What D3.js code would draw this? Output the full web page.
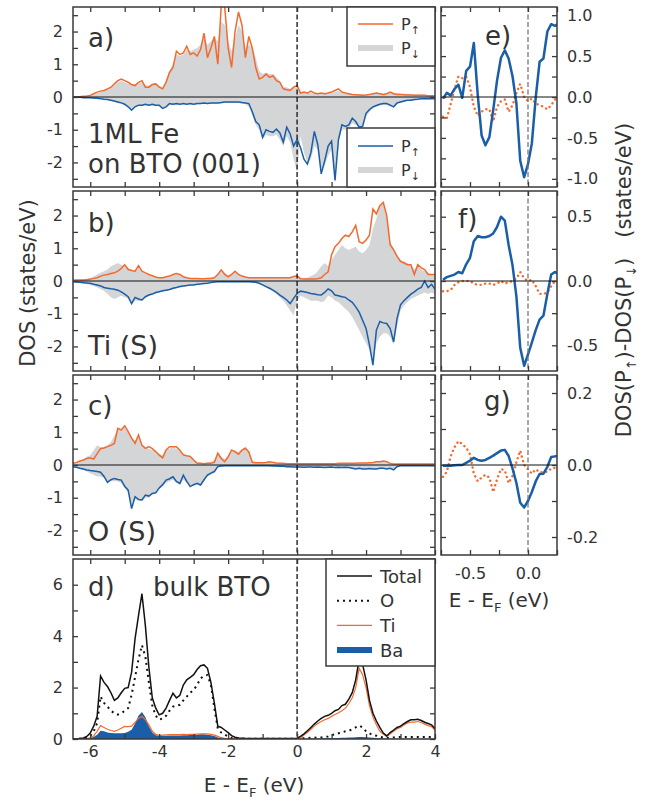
<!DOCTYPE html>
<html>
<head>
<meta charset="utf-8">
<script src="https://cdn.jsdelivr.net/npm/d3@7"></script>
<style>
  body { margin: 0; background: #fff; }
  svg { display: block; }
  text { font-family: "DejaVu Sans", sans-serif; fill: #333; }
</style>
</head>
<body>
<script>
// ENERGY GRIDS (eV)
const energy = d3.range(106).map(i => Math.round((-6.5 + i * 0.1) * 10) / 10);
const energyDiff = [-0.733, -0.700, -0.667, -0.633, -0.600, -0.567, -0.533, -0.500, -0.467, -0.433,
  -0.400, -0.367, -0.333, -0.300, -0.267, -0.233, -0.200, -0.167, -0.133, -0.100,
  -0.067, -0.033, 0.000, 0.033, 0.067, 0.100, 0.133, 0.167, 0.200, 0.233, 0.267];

// PANEL A : 1ML Fe on BTO (001)
const aUp = [0.0, 0.01, 0.01, 0.02, 0.03, 0.05, 0.1, 0.15, 0.18, 0.2,
  0.25, 0.3, 0.4, 0.5, 0.55, 0.5, 0.45, 0.38, 0.35, 0.45,
  0.5, 0.3, 0.3, 0.38, 0.4, 0.3, 0.25, 0.45, 0.75, 0.9,
  1.4, 1.3, 1.35, 1.55, 1.3, 1.35, 1.25, 1.45, 1.95, 1.2,
  1.5, 1.85, 1.0, 2.8, 2.75, 1.5, 0.9, 2.0, 2.6, 2.2,
  1.2, 1.85, 1.5, 0.9, 0.55, 0.6, 0.7, 0.6, 0.65, 0.5,
  0.45, 0.25, 0.22, 0.2, 0.3, 0.35, 0.12, 0.15, 0.12, 0.18,
  0.12, 0.1, 0.12, 0.1, 0.12, 0.15, 0.2, 0.25, 0.15, 0.12,
  0.1, 0.08, 0.07, 0.06, 0.05, 0.06, 0.08, 0.1, 0.12, 0.1,
  0.08, 0.1, 0.15, 0.1, 0.08, 0.08, 0.07, 0.06, 0.06, 0.05,
  0.05, 0.05, 0.05, 0.04, 0.04, 0.04];
const aUpGrey = [0.0, 0.01, 0.01, 0.02, 0.03, 0.05, 0.08, 0.12, 0.15, 0.2,
  0.25, 0.3, 0.35, 0.45, 0.5, 0.45, 0.4, 0.4, 0.38, 0.42,
  0.45, 0.35, 0.35, 0.4, 0.42, 0.35, 0.3, 0.5, 0.8, 1.0,
  1.3, 1.25, 1.3, 1.45, 1.4, 1.45, 1.5, 1.6, 1.8, 1.6,
  1.7, 1.8, 1.7, 2.3, 2.2, 1.7, 1.4, 1.8, 2.2, 2.0,
  1.5, 1.6, 1.5, 1.2, 0.8, 0.7, 0.75, 0.7, 0.7, 0.6,
  0.5, 0.3, 0.3, 0.25, 0.3, 0.3, 0.12, 0.12, 0.1, 0.12,
  0.1, 0.1, 0.1, 0.1, 0.1, 0.12, 0.15, 0.18, 0.12, 0.1,
  0.1, 0.08, 0.08, 0.08, 0.08, 0.08, 0.09, 0.1, 0.1, 0.1,
  0.1, 0.11, 0.12, 0.12, 0.12, 0.1, 0.1, 0.1, 0.09, 0.08,
  0.08, 0.08, 0.07, 0.06, 0.06, 0.05];
const aDn = [-0.01, -0.01, -0.01, -0.02, -0.02, -0.02, -0.03, -0.04, -0.05, -0.07,
  -0.08, -0.1, -0.12, -0.15, -0.18, -0.22, -0.3, -0.4, -0.3, -0.25,
  -0.25, -0.22, -0.25, -0.22, -0.25, -0.25, -0.35, -0.3, -0.2, -0.22,
  -0.2, -0.22, -0.2, -0.22, -0.2, -0.22, -0.2, -0.2, -0.18, -0.2,
  -0.18, -0.18, -0.18, -0.17, -0.15, -0.15, -0.15, -0.15, -0.15, -0.17,
  -0.18, -0.2, -0.45, -0.75, -0.85, -1.23, -1.0, -1.05, -1.08, -0.98,
  -1.1, -1.38, -0.92, -1.13, -1.5, -1.3, -1.55, -1.9, -2.05, -1.7,
  -1.05, -1.45, -2.35, -1.95, -1.5, -1.35, -2.55, -1.3, -0.85, -0.9,
  -0.85, -0.65, -0.75, -0.92, -0.9, -0.5, -0.38, -0.3, -0.26, -0.22,
  -0.2, -0.2, -0.25, -0.3, -0.18, -0.15, -0.12, -0.1, -0.1, -0.08,
  -0.07, -0.05, -0.05, -0.05, -0.05, -0.05];
const aDnGrey = [-0.01, -0.01, -0.02, -0.02, -0.03, -0.03, -0.04, -0.05, -0.06, -0.08,
  -0.1, -0.12, -0.15, -0.18, -0.2, -0.25, -0.3, -0.35, -0.3, -0.28,
  -0.28, -0.25, -0.28, -0.25, -0.28, -0.28, -0.32, -0.3, -0.25, -0.25,
  -0.25, -0.25, -0.22, -0.25, -0.22, -0.25, -0.22, -0.22, -0.2, -0.22,
  -0.2, -0.2, -0.2, -0.2, -0.18, -0.18, -0.18, -0.18, -0.18, -0.2,
  -0.22, -0.3, -0.55, -0.85, -1.0, -1.3, -1.15, -1.2, -1.2, -1.15,
  -1.3, -1.5, -1.2, -1.4, -1.9, -2.3, -1.2, -1.7, -2.0, -1.9,
  -1.5, -1.6, -2.2, -2.1, -1.8, -1.6, -2.4, -1.4, -1.0, -1.0,
  -0.95, -0.8, -0.85, -0.95, -0.95, -0.6, -0.45, -0.35, -0.3, -0.25,
  -0.25, -0.25, -0.28, -0.32, -0.22, -0.18, -0.15, -0.12, -0.12, -0.1,
  -0.1, -0.08, -0.08, -0.07, -0.06, -0.06];

// PANEL B : Ti (S)
const bUp = [0.02, 0.03, 0.03, 0.03, 0.04, 0.05, 0.08, 0.1, 0.15, 0.18,
  0.2, 0.23, 0.25, 0.3, 0.38, 0.5, 0.35, 0.32, 0.3, 0.47,
  0.3, 0.25, 0.2, 0.16, 0.12, 0.1, 0.1, 0.13, 0.15, 0.2,
  0.23, 0.2, 0.13, 0.1, 0.08, 0.08, 0.08, 0.07, 0.07, 0.08,
  0.08, 0.1, 0.2, 0.34, 0.2, 0.13, 0.2, 0.3, 0.2, 0.15,
  0.12, 0.1, 0.1, 0.1, 0.1, 0.1, 0.1, 0.1, 0.1, 0.1,
  0.1, 0.1, 0.1, 0.1, 0.14, 0.15, 0.07, 0.06, 0.06, 0.06,
  0.06, 0.07, 0.1, 0.2, 0.28, 0.8, 1.05, 1.15, 1.3, 1.4,
  1.36, 1.5, 1.7, 1.2, 1.15, 1.25, 1.4, 2.2, 2.05, 2.3,
  2.4, 2.0, 1.1, 0.95, 0.75, 0.6, 0.55, 0.5, 0.5, 0.2,
  0.5, 0.4, 0.35, 0.2, 0.2, 0.2];
const bUpGrey = [0.02, 0.03, 0.04, 0.05, 0.07, 0.1, 0.14, 0.2, 0.25, 0.3,
  0.35, 0.45, 0.5, 0.55, 0.5, 0.45, 0.4, 0.35, 0.3, 0.4,
  0.28, 0.22, 0.18, 0.14, 0.12, 0.1, 0.1, 0.12, 0.14, 0.18,
  0.2, 0.18, 0.12, 0.1, 0.08, 0.08, 0.08, 0.08, 0.08, 0.1,
  0.1, 0.12, 0.22, 0.35, 0.25, 0.15, 0.22, 0.32, 0.22, 0.15,
  0.12, 0.1, 0.1, 0.1, 0.1, 0.1, 0.1, 0.1, 0.1, 0.1,
  0.1, 0.1, 0.1, 0.12, 0.15, 0.18, 0.1, 0.1, 0.1, 0.15,
  0.2, 0.3, 0.45, 0.55, 0.45, 0.65, 0.8, 0.95, 1.1, 1.0,
  0.95, 1.0, 1.05, 0.9, 0.85, 0.95, 1.1, 1.6, 1.9, 2.3,
  2.35, 1.9, 1.2, 1.0, 0.8, 0.65, 0.6, 0.55, 0.5, 0.35,
  0.45, 0.35, 0.3, 0.25, 0.2, 0.2];
const bDn = [-0.02, -0.03, -0.04, -0.05, -0.06, -0.07, -0.1, -0.12, -0.15, -0.2,
  -0.22, -0.24, -0.25, -0.28, -0.33, -0.4, -0.48, -0.69, -0.5, -0.55,
  -0.58, -0.48, -0.43, -0.4, -0.35, -0.33, -0.3, -0.28, -0.26, -0.22,
  -0.2, -0.17, -0.15, -0.14, -0.12, -0.12, -0.1, -0.09, -0.08, -0.07,
  -0.05, -0.03, -0.02, -0.02, -0.02, -0.02, -0.02, -0.02, -0.02, -0.02,
  -0.02, -0.02, -0.03, -0.04, -0.07, -0.12, -0.17, -0.22, -0.28, -0.35,
  -0.43, -0.5, -0.58, -0.69, -0.53, -0.38, -0.31, -0.33, -0.35, -0.38,
  -0.4, -0.42, -0.43, -0.35, -0.24, -0.3, -0.43, -0.45, -0.48, -0.5,
  -0.58, -0.65, -0.79, -0.95, -1.2, -1.45, -1.96, -2.57, -1.5, -1.24,
  -1.28, -1.3, -1.45, -1.86, -1.14, -0.73, -0.6, -0.5, -0.4, -0.33,
  -0.25, -0.2, 0.0, -0.2, -0.1, -0.25];
const bDnGrey = [-0.02, -0.03, -0.05, -0.07, -0.1, -0.12, -0.15, -0.2, -0.25, -0.3,
  -0.4, -0.5, -0.55, -0.5, -0.45, -0.5, -0.55, -0.7, -0.6, -0.6,
  -0.6, -0.5, -0.45, -0.42, -0.38, -0.35, -0.32, -0.3, -0.28, -0.25,
  -0.22, -0.2, -0.18, -0.16, -0.14, -0.13, -0.12, -0.1, -0.09, -0.08,
  -0.06, -0.04, -0.03, -0.03, -0.03, -0.03, -0.03, -0.03, -0.03, -0.03,
  -0.03, -0.03, -0.04, -0.05, -0.08, -0.14, -0.2, -0.26, -0.32, -0.4,
  -0.5, -0.6, -0.75, -0.9, -1.05, -0.6, -0.45, -0.5, -0.55, -0.6,
  -0.6, -0.6, -0.65, -0.6, -0.45, -0.5, -0.6, -0.65, -0.75, -0.85,
  -0.95, -1.1, -1.3, -1.5, -1.7, -1.9, -2.1, -2.5, -1.9, -1.7,
  -1.6, -1.6, -1.7, -1.95, -1.4, -0.9, -0.75, -0.65, -0.55, -0.5,
  -0.45, -0.4, -0.35, -0.4, -0.35, -0.4];

// PANEL C : O (S)
const cUp = [0.05, 0.08, 0.12, 0.15, 0.2, 0.22, 0.18, 0.35, 0.5, 0.52,
  0.56, 0.6, 0.66, 1.12, 1.07, 1.2, 1.02, 0.82, 0.66, 0.92,
  0.6, 0.51, 0.56, 0.5, 0.41, 0.3, 0.22, 0.46, 0.56, 0.56,
  0.56, 0.45, 0.31, 0.28, 0.26, 0.15, 0.05, 0.05, 0.04, 0.05,
  0.05, 0.08, 0.36, 0.2, 0.1, 0.25, 0.46, 0.4, 0.33, 0.45,
  0.51, 0.4, 0.08, 0.07, 0.07, 0.07, 0.08, 0.1, 0.08, 0.06,
  0.05, 0.05, 0.04, 0.04, 0.04, 0.04, 0.04, 0.04, 0.04, 0.04,
  0.04, 0.04, 0.04, 0.04, 0.04, 0.04, 0.04, 0.05, 0.05, 0.05,
  0.05, 0.05, 0.05, 0.06, 0.06, 0.06, 0.07, 0.08, 0.1, 0.1,
  0.12, 0.1, 0.05, 0.03, 0.03, 0.03, 0.03, 0.03, 0.03, 0.03,
  0.03, 0.03, 0.03, 0.03, 0.03, 0.03];
const cUpGrey = [0.05, 0.08, 0.12, 0.18, 0.25, 0.3, 0.45, 0.6, 0.55, 0.55,
  0.6, 0.7, 0.9, 1.1, 1.05, 1.15, 1.0, 0.85, 0.75, 0.85,
  0.6, 0.55, 0.5, 0.45, 0.4, 0.35, 0.3, 0.45, 0.5, 0.55,
  0.5, 0.45, 0.35, 0.3, 0.25, 0.15, 0.08, 0.06, 0.06, 0.08,
  0.1, 0.15, 0.35, 0.25, 0.18, 0.3, 0.45, 0.45, 0.4, 0.5,
  0.55, 0.4, 0.15, 0.1, 0.08, 0.08, 0.1, 0.1, 0.08, 0.06,
  0.05, 0.05, 0.04, 0.04, 0.05, 0.04, 0.03, 0.03, 0.03, 0.03,
  0.03, 0.03, 0.03, 0.03, 0.04, 0.04, 0.04, 0.04, 0.04, 0.05,
  0.05, 0.05, 0.05, 0.05, 0.06, 0.06, 0.06, 0.07, 0.08, 0.1,
  0.1, 0.08, 0.04, 0.03, 0.03, 0.03, 0.03, 0.03, 0.03, 0.03,
  0.03, 0.03, 0.03, 0.03, 0.03, 0.03];
const cDn = [-0.05, -0.07, -0.1, -0.12, -0.15, -0.17, -0.18, -0.2, -0.22, -0.35,
  -0.53, -0.45, -0.41, -0.44, -0.46, -0.65, -0.77, -1.33, -0.97, -1.05,
  -1.07, -0.92, -0.95, -0.87, -0.85, -0.7, -0.6, -0.46, -0.42, -0.36,
  -0.5, -0.56, -0.31, -0.5, -0.66, -0.6, -0.56, -0.61, -0.45, -0.31,
  -0.25, -0.2, -0.05, -0.03, -0.02, -0.02, -0.02, -0.02, -0.02, -0.02,
  -0.02, -0.02, -0.02, -0.02, -0.02, -0.02, -0.02, -0.02, -0.03, -0.03,
  -0.04, -0.04, -0.05, -0.05, -0.06, -0.06, -0.06, -0.07, -0.06, -0.06,
  -0.07, -0.06, -0.07, -0.08, -0.07, -0.06, -0.08, -0.07, -0.08, -0.07,
  -0.08, -0.1, -0.12, -0.1, -0.12, -0.12, -0.11, -0.12, -0.12, -0.1,
  -0.1, -0.12, -0.1, -0.15, -0.05, -0.02, -0.02, -0.02, -0.02, -0.02,
  -0.02, -0.02, -0.02, -0.02, -0.02, -0.02];
const cDnGrey = [-0.06, -0.08, -0.12, -0.15, -0.2, -0.25, -0.3, -0.35, -0.35, -0.4,
  -0.5, -0.5, -0.5, -0.5, -0.55, -0.7, -0.85, -1.2, -1.05, -1.1,
  -1.1, -1.0, -1.0, -0.9, -0.85, -0.75, -0.65, -0.55, -0.5, -0.45,
  -0.55, -0.6, -0.45, -0.55, -0.65, -0.65, -0.6, -0.65, -0.5, -0.35,
  -0.3, -0.22, -0.08, -0.04, -0.03, -0.03, -0.03, -0.03, -0.03, -0.03,
  -0.03, -0.03, -0.03, -0.03, -0.03, -0.03, -0.03, -0.04, -0.04, -0.05,
  -0.05, -0.06, -0.06, -0.07, -0.08, -0.1, -0.07, -0.07, -0.07, -0.06,
  -0.07, -0.07, -0.07, -0.08, -0.08, -0.07, -0.08, -0.08, -0.08, -0.08,
  -0.09, -0.1, -0.12, -0.12, -0.12, -0.12, -0.12, -0.12, -0.12, -0.12,
  -0.12, -0.12, -0.12, -0.15, -0.06, -0.03, -0.03, -0.03, -0.03, -0.03,
  -0.03, -0.03, -0.03, -0.03, -0.03, -0.03];

// PANEL D : bulk BTO
const dTotal = [0.0, 0.0, 0.02, 0.04, 0.1, 0.23, 0.5, 0.88, 2.45, 2.2,
  2.04, 1.8, 1.5, 1.6, 1.8, 1.97, 2.0, 2.6, 3.9, 4.8,
  5.65, 4.4, 2.8, 1.6, 1.2, 0.94, 1.0, 1.2, 1.5, 1.78,
  1.6, 1.7, 2.1, 2.3, 2.4, 2.5, 2.7, 2.85, 2.88, 2.75,
  2.2, 1.4, 0.5, 0.45, 0.35, 0.25, 0.13, 0.07, 0.04, 0.03,
  0.02, 0.02, 0.02, 0.02, 0.02, 0.02, 0.02, 0.02, 0.02, 0.02,
  0.02, 0.02, 0.02, 0.02, 0.02, 0.03, 0.1, 0.2, 0.32, 0.45,
  0.58, 0.7, 0.8, 0.88, 0.92, 1.0, 1.1, 1.15, 1.3, 1.35,
  1.55, 1.8, 2.3, 3.1, 2.9, 2.3, 1.5, 1.0, 0.7, 0.45,
  0.23, 0.12, 0.25, 0.35, 0.45, 0.5, 0.6, 0.68, 0.75, 0.75,
  0.77, 0.72, 0.65, 0.6, 0.55, 0.4];
const dO = [0.0, 0.0, 0.01, 0.02, 0.05, 0.12, 0.3, 0.62, 1.65, 1.4,
  1.26, 1.1, 1.0, 0.95, 1.0, 1.1, 1.2, 1.72, 2.4, 3.1,
  3.65, 3.2, 2.2, 1.3, 0.9, 0.75, 0.8, 0.9, 1.1, 1.26,
  1.3, 1.33, 1.5, 1.65, 1.8, 1.91, 2.1, 2.36, 2.45, 2.49,
  2.1, 1.2, 0.4, 0.25, 0.17, 0.1, 0.04, 0.03, 0.02, 0.02,
  0.01, 0.01, 0.01, 0.01, 0.01, 0.01, 0.01, 0.01, 0.01, 0.01,
  0.01, 0.01, 0.01, 0.01, 0.01, 0.01, 0.02, 0.03, 0.04, 0.05,
  0.05, 0.06, 0.06, 0.08, 0.1, 0.15, 0.18, 0.22, 0.25, 0.3,
  0.32, 0.38, 0.45, 0.52, 0.45, 0.3, 0.22, 0.15, 0.13, 0.08,
  0.06, 0.04, 0.05, 0.06, 0.07, 0.08, 0.08, 0.08, 0.08, 0.08,
  0.08, 0.08, 0.08, 0.08, 0.08, 0.08];
const dTi = [0.0, 0.0, 0.0, 0.01, 0.02, 0.05, 0.12, 0.3, 0.52, 0.45,
  0.38, 0.33, 0.3, 0.35, 0.42, 0.49, 0.48, 0.5, 0.65, 0.8,
  0.88, 0.75, 0.55, 0.3, 0.18, 0.14, 0.15, 0.16, 0.17, 0.17,
  0.17, 0.17, 0.18, 0.17, 0.18, 0.18, 0.19, 0.2, 0.2, 0.2,
  0.18, 0.15, 0.1, 0.05, 0.03, 0.02, 0.01, 0.01, 0.01, 0.01,
  0.0, 0.0, 0.0, 0.0, 0.0, 0.0, 0.0, 0.0, 0.0, 0.0,
  0.0, 0.0, 0.0, 0.0, 0.0, 0.01, 0.05, 0.15, 0.26, 0.38,
  0.5, 0.6, 0.68, 0.75, 0.8, 0.88, 0.95, 1.02, 1.1, 1.2,
  1.38, 1.6, 2.0, 2.75, 2.5, 2.0, 1.3, 0.85, 0.55, 0.3,
  0.19, 0.1, 0.2, 0.3, 0.4, 0.45, 0.55, 0.62, 0.66, 0.66,
  0.68, 0.64, 0.58, 0.52, 0.48, 0.35];
const dBa = [0.0, 0.0, 0.0, 0.0, 0.01, 0.03, 0.08, 0.17, 0.32, 0.3,
  0.25, 0.23, 0.22, 0.22, 0.22, 0.23, 0.28, 0.36, 0.6, 0.9,
  1.05, 0.85, 0.5, 0.25, 0.15, 0.13, 0.13, 0.13, 0.14, 0.14,
  0.14, 0.14, 0.15, 0.15, 0.16, 0.17, 0.17, 0.18, 0.18, 0.17,
  0.15, 0.12, 0.06, 0.03, 0.01, 0.01, 0.0, 0.0, 0.0, 0.0,
  0.0, 0.0, 0.0, 0.0, 0.0, 0.0, 0.0, 0.0, 0.0, 0.0,
  0.0, 0.0, 0.0, 0.0, 0.0, 0.0, 0.01, 0.01, 0.01, 0.02,
  0.02, 0.02, 0.02, 0.03, 0.03, 0.03, 0.04, 0.04, 0.05, 0.05,
  0.06, 0.06, 0.07, 0.08, 0.08, 0.07, 0.06, 0.05, 0.04, 0.03,
  0.02, 0.01, 0.01, 0.01, 0.01, 0.01, 0.01, 0.01, 0.01, 0.01,
  0.01, 0.01, 0.01, 0.01, 0.01, 0.01];

// PANELS E F G : DOS(P up) - DOS(P down) near E_F
const eBlue = [-0.02, 0.05, 0.02, 0.1, 0.15, -0.01, 0.32, 0.37, 0.66, 0.02,
  -0.47, -0.59, -0.49, -0.16, 0.2, 0.48, 0.57, 0.47, 0.25, -0.08,
  -0.78, -0.98, -0.82, -0.57, 0.0, 0.43, 0.47, 0.8, 0.89, 0.87, 0.9];
const eOrange = [-0.24, -0.26, -0.09, 0.1, 0.25, 0.23, 0.25, 0.12, -0.12, -0.23,
  -0.18, -0.15, -0.15, -0.3, -0.12, -0.05, -0.03, -0.18, -0.1, 0.05,
  0.16, 0.0, -0.05, -0.02, -0.08, -0.1, -0.12, -0.15, -0.1, -0.03, 0.0];
const fBlue = [0.01, 0.03, 0.04, 0.05, 0.07, 0.06, 0.13, 0.18, 0.31, 0.35,
  0.34, 0.34, 0.35, 0.37, 0.42, 0.5, 0.47, 0.28, 0.12, -0.12,
  -0.52, -0.66, -0.57, -0.48, -0.38, -0.3, -0.27, -0.1, 0.05, 0.07, 0.05];
const fOrange = [-0.08, -0.08, -0.07, -0.03, -0.01, 0.0, 0.0, 0.0, -0.02, -0.03,
  -0.03, -0.02, -0.02, -0.03, -0.02, 0.0, -0.02, -0.01, 0.0, 0.02,
  0.07, 0.02, 0.0, 0.01, -0.04, -0.1, -0.1, -0.09, -0.04, 0.0, 0.0];
const gBlue = [-0.002, -0.002, -0.002, -0.001, 0.0, 0.0, 0.006, 0.012, 0.02, 0.014,
  0.012, 0.014, 0.02, 0.026, 0.033, 0.04, 0.042, 0.025, -0.01, -0.05,
  -0.105, -0.118, -0.1, -0.075, -0.045, -0.025, -0.024, -0.005, 0.022, 0.024, 0.024];
const gOrange = [-0.033, -0.019, 0.024, 0.05, 0.066, 0.058, 0.048, 0.03, -0.024, -0.045,
  -0.035, -0.027, -0.035, -0.075, -0.04, -0.011, -0.015, -0.05, -0.03, 0.008,
  0.04, 0.0, -0.012, -0.024, -0.012, -0.02, -0.02, -0.019, -0.01, -0.008, -0.005];

// TICKS
const eTicks = [-6, -5, -4, -3, -2, -1, 0, 1, 2, 3, 4];
const eLabels = [-6, -4, -2, 0, 2, 4];
const dosTicks = [-2.5, -2, -1.5, -1, -0.5, 0, 0.5, 1, 1.5, 2, 2.5];
const dosLabels = [-2, -1, 0, 1, 2];
const bulkTicks = [0, 1, 2, 3, 4, 5, 6];
const bulkLabels = [0, 2, 4, 6];
const diffETicks = [-0.75, -0.5, -0.25, 0, 0.25];
const diffELabels = [-0.5, 0];
const eYTicks = [-1, -0.75, -0.5, -0.25, 0, 0.25, 0.5, 0.75, 1];
const eYLabels = [-1, -0.5, 0, 0.5, 1];
const fYTicks = [-0.5, -0.25, 0, 0.25, 0.5];
const fYLabels = [-0.5, 0, 0.5];
const gYTicks = [-0.2, -0.1, 0, 0.1, 0.2];
const gYLabels = [-0.2, 0, 0.2];

// COLOURS
const ORANGE = "#f26a2e", BLUE = "#1a5ea8", GREY = "#d4d5d7", AX = "#3a3a3a";

// SVG
const svg = d3.select("body").append("svg").attr("width", 658).attr("height", 803);

const rowTop = [7, 191, 375, 559];
const rowH = 180;
const xLeft = d3.scaleLinear().domain([-6.5, 4]).range([73, 435]);
const xRight = d3.scaleLinear().domain([-0.75, 0.25]).range([441, 557]);

let clipN = 0;
function makeClip(x, y) {
  const id = "clip" + (clipN++);
  svg.append("clipPath").attr("id", id).append("rect")
    .attr("x", x.range()[0]).attr("y", y.range()[1])
    .attr("width", x.range()[1] - x.range()[0])
    .attr("height", y.range()[0] - y.range()[1]);
  return svg.append("g").attr("clip-path", `url(#${id})`);
}

function styleAxis(g) {
  g.attr("color", AX).attr("font-family", null).attr("font-size", null);
  g.select(".domain").remove();
  g.selectAll(".tick line").attr("stroke-width", 1.3);
  g.selectAll("text").attr("fill", "#333").style("font-size", "16px");
}

// AXES + FRAME (inward ticks on all four sides)
function addAxes(x, y, xTicks, yTicks, o) {
  const [l, r] = x.range(), [b, t] = y.range();
  const fy = v => (o.yLabels.includes(v) ? o.yFmt(v) : "");
  const fx = v => (o.xLabels && o.xLabels.includes(v) ? o.xFmt(v) : "");
  svg.append("g").attr("transform", `translate(0,${t})`)
    .call(d3.axisTop(x).tickValues(xTicks).tickSize(-5).tickFormat("")).call(styleAxis);
  svg.append("g").attr("transform", `translate(0,${b})`)
    .call(d3.axisBottom(x).tickValues(xTicks).tickSize(-5).tickPadding(o.xPad || 6).tickFormat(fx)).call(styleAxis);
  svg.append("g").attr("transform", `translate(${l},0)`)
    .call(d3.axisLeft(y).tickValues(yTicks).tickSize(-5).tickPadding(10).tickFormat(o.right ? "" : fy)).call(styleAxis);
  svg.append("g").attr("transform", `translate(${r},0)`)
    .call(d3.axisRight(y).tickValues(yTicks).tickSize(-5).tickPadding(10).tickFormat(o.right ? fy : "")).call(styleAxis);
  svg.append("rect").attr("x", l).attr("y", t).attr("width", r - l).attr("height", b - t)
    .attr("fill", "none").attr("stroke", AX).attr("stroke-width", 1.5);
}

function zeroLines(x, y, dashColor, withH) {
  if (withH) {
    svg.append("line").attr("x1", x.range()[0]).attr("x2", x.range()[1])
      .attr("y1", y(0)).attr("y2", y(0)).attr("stroke", "#111").attr("stroke-width", 1);
  }
  svg.append("line").attr("x1", x(0)).attr("x2", x(0))
    .attr("y1", y.range()[1]).attr("y2", y.range()[0])
    .attr("stroke", dashColor).attr("stroke-width", 1.3).attr("stroke-dasharray", "5,2.5");
}

// LEFT SPIN-RESOLVED PANELS a, b, c
const spinPanels = [
  {up: aUp, upGrey: aUpGrey, dn: aDn, dnGrey: aDnGrey},
  {up: bUp, upGrey: bUpGrey, dn: bDn, dnGrey: bDnGrey},
  {up: cUp, upGrey: cUpGrey, dn: cDn, dnGrey: cDnGrey}
];
spinPanels.forEach((p, k) => {
  const y = d3.scaleLinear().domain([-2.75, 2.75]).range([rowTop[k] + rowH, rowTop[k]]);
  const g = makeClip(xLeft, y);
  const area = d3.area().x((d, i) => xLeft(energy[i])).y0(y(0)).y1(d => y(d));
  const line = d3.line().x((d, i) => xLeft(energy[i])).y(d => y(d));
  g.append("path").attr("d", area(p.upGrey)).attr("fill", GREY);
  g.append("path").attr("d", area(p.dnGrey)).attr("fill", GREY);
  g.append("path").attr("d", line(p.up)).attr("fill", "none").attr("stroke", ORANGE).attr("stroke-width", 1.5);
  g.append("path").attr("d", line(p.dn)).attr("fill", "none").attr("stroke", BLUE).attr("stroke-width", 1.5);
  zeroLines(xLeft, y, "#111", true);
  addAxes(xLeft, y, eTicks, dosTicks, {yLabels: dosLabels, yFmt: v => String(v)});
});

// PANEL D bulk
const yBulk = d3.scaleLinear().domain([0, 7]).range([rowTop[3] + rowH, rowTop[3]]);
{
  const g = makeClip(xLeft, yBulk);
  const line = d3.line().x((d, i) => xLeft(energy[i])).y(d => yBulk(d));
  const area = d3.area().x((d, i) => xLeft(energy[i])).y0(yBulk(0)).y1(d => yBulk(d));
  g.append("path").attr("d", area(dBa)).attr("fill", BLUE);
  g.append("path").attr("d", line(dTi)).attr("fill", "none").attr("stroke", ORANGE).attr("stroke-width", 1.2);
  g.append("path").attr("d", line(dO)).attr("fill", "none").attr("stroke", "#111")
    .attr("stroke-width", 2).attr("stroke-dasharray", "2,4");
  g.append("path").attr("d", line(dTotal)).attr("fill", "none").attr("stroke", "#111").attr("stroke-width", 1.5);
  zeroLines(xLeft, yBulk, "#111", false);
  addAxes(xLeft, yBulk, eTicks, bulkTicks, {yLabels: bulkLabels, yFmt: v => String(v),
    xLabels: eLabels, xFmt: v => String(v), xPad: 7});
}

// RIGHT DIFFERENCE PANELS e, f, g
const diffPanels = [
  {blue: eBlue, orange: eOrange, dom: 1.1, ticks: eYTicks, labels: eYLabels},
  {blue: fBlue, orange: fOrange, dom: 0.7, ticks: fYTicks, labels: fYLabels},
  {blue: gBlue, orange: gOrange, dom: 0.25, ticks: gYTicks, labels: gYLabels}
];
diffPanels.forEach((p, k) => {
  const y = d3.scaleLinear().domain([-p.dom, p.dom]).range([rowTop[k] + rowH, rowTop[k]]);
  const g = makeClip(xRight, y);
  const line = d3.line().x((d, i) => xRight(energyDiff[i])).y(d => y(d));
  zeroLines(xRight, y, "#777", true);
  g.append("path").attr("d", line(p.orange)).attr("fill", "none").attr("stroke", ORANGE)
    .attr("stroke-width", 2.4).attr("stroke-linecap", "round").attr("stroke-dasharray", "0.1,4.6");
  g.append("path").attr("d", line(p.blue)).attr("fill", "none").attr("stroke", BLUE)
    .attr("stroke-width", 2.5).attr("stroke-linejoin", "round");
  const o = {right: true, yLabels: p.labels, yFmt: v => v.toFixed(1)};
  if (k === 2) { o.xLabels = diffELabels; o.xFmt = v => v.toFixed(1); o.xPad = 13; }
  addAxes(xRight, y, diffETicks, p.ticks, o);
});

// LEGENDS
function pLabel(x, y, arrow) {
  const t = svg.append("text").attr("x", x).attr("y", y).style("font-size", "16px").text("P");
  t.append("tspan").attr("dy", 4).style("font-size", "11px").text(arrow);
}
function legendBox(x, y, w, h) {
  svg.append("rect").attr("x", x).attr("y", y).attr("width", w).attr("height", h)
    .attr("fill", "#fff").attr("stroke", AX).attr("stroke-width", 1.5);
}
legendBox(347, 7, 88, 59);
svg.append("line").attr("x1", 358).attr("x2", 393).attr("y1", 24).attr("y2", 24).attr("stroke", ORANGE).attr("stroke-width", 1.5);
svg.append("line").attr("x1", 358).attr("x2", 393).attr("y1", 48).attr("y2", 48).attr("stroke", GREY).attr("stroke-width", 6);
pLabel(401, 30, "↑");
pLabel(401, 54, "↓");
legendBox(347, 128, 88, 59);
svg.append("line").attr("x1", 358).attr("x2", 393).attr("y1", 146).attr("y2", 146).attr("stroke", BLUE).attr("stroke-width", 1.5);
svg.append("line").attr("x1", 358).attr("x2", 393).attr("y1", 170).attr("y2", 170).attr("stroke", GREY).attr("stroke-width", 6);
pLabel(401, 152, "↑");
pLabel(401, 176, "↓");

legendBox(326, 559, 109, 107);
const bulkLegend = [
  {name: "Total", color: "#111", width: 1.5, dash: null},
  {name: "O", color: "#111", width: 2, dash: "2,4"},
  {name: "Ti", color: ORANGE, width: 1.2, dash: null},
  {name: "Ba", color: BLUE, width: 6, dash: null}
];
bulkLegend.forEach((d, i) => {
  const yy = 576 + i * 24.7;
  svg.append("line").attr("x1", 337).attr("x2", 372).attr("y1", yy).attr("y2", yy)
    .attr("stroke", d.color).attr("stroke-width", d.width).attr("stroke-dasharray", d.dash);
  svg.append("text").attr("x", 380).attr("y", yy + 6.5).style("font-size", "18px").text(d.name);
});

// PANEL TEXTS
const notes = [
  ["a)", 88, 47, 26], ["1ML Fe", 88, 143, 26], ["on BTO (001)", 88, 173, 26],
  ["b)", 88, 232, 26], ["Ti (S)", 88, 355, 27],
  ["c)", 88, 415, 26], ["O (S)", 88, 541, 27],
  ["d)", 88, 596, 26], ["bulk BTO", 153, 596, 26],
  ["e)", 485, 45, 26], ["f)", 458, 228, 26], ["g)", 484, 410, 26]
];
notes.forEach(n => svg.append("text").attr("x", n[1]).attr("y", n[2]).style("font-size", n[3] + "px").text(n[0]));

// AXIS TITLES
function energyTitle(cx, y) {
  const t = svg.append("text").attr("x", cx).attr("y", y).attr("text-anchor", "middle").style("font-size", "20px").text("E - E");
  t.append("tspan").attr("dy", 5).style("font-size", "13px").text("F");
  t.append("tspan").attr("dy", -5).text(" (eV)");
}
energyTitle(254, 792);
energyTitle(499, 607);

svg.append("text").attr("transform", "translate(35,283) rotate(-90)").attr("text-anchor", "middle")
  .style("font-size", "21px").text("DOS (states/eV)");

const rt = svg.append("text").attr("transform", "translate(631,280) rotate(-90)")
  .attr("text-anchor", "middle").style("font-size", "21px");
rt.append("tspan").text("DOS(P");
rt.append("tspan").attr("dy", 5).style("font-size", "13px").text("↑");
rt.append("tspan").attr("dy", -5).text(")-DOS(P");
rt.append("tspan").attr("dy", 5).style("font-size", "13px").text("↓");
rt.append("tspan").attr("dy", -5).text(")\u00a0\u00a0\u00a0(states/eV)");
</script>
</body>
</html>
